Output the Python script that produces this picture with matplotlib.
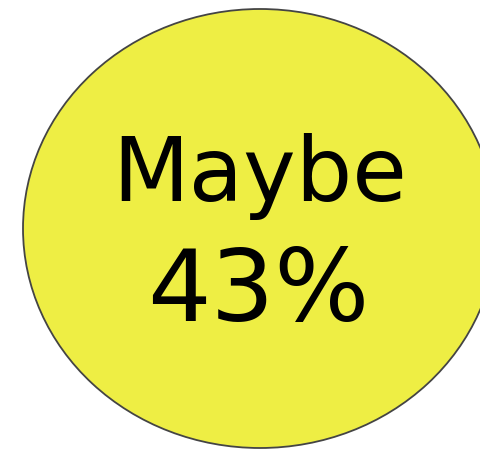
import matplotlib
matplotlib.use("Agg")
import matplotlib.pyplot as plt
from matplotlib.patches import Ellipse

# bubble data
labels = ["Maybe"]
percents = [43]
colors = ["#eeee44"]

fig = plt.figure(figsize=(4.8, 4.49), dpi=100)
ax = fig.add_axes([0, 0, 1, 1])
ax.set_xlim(0, 480)
ax.set_ylim(449, 0)
ax.axis("off")

for lab, p, c in zip(labels, percents, colors):
    e = Ellipse((260, 228.5), 474, 439, facecolor=c, edgecolor="#444444", linewidth=1.3)
    ax.add_patch(e)
    ax.text(260, 201, lab, ha="center", va="baseline", fontsize=64,
            family="DejaVu Sans", color="black")
    ax.text(258, 321, f"{p}%", ha="center", va="baseline", fontsize=72,
            family="DejaVu Sans", color="black")

fig.savefig("out.png", dpi=100)
